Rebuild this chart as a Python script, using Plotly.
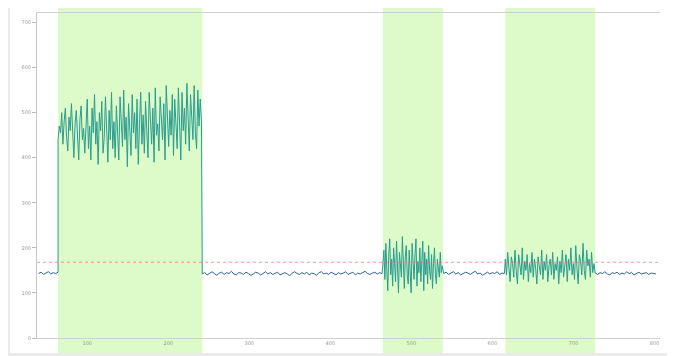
import numpy as np
import plotly.graph_objects as go

# ---- data ----
x_ticks = [100, 200, 300, 400, 500, 600, 700, 800]
x_tick_labels = ["100", "200", "300", "400", "500", "600", "700", "800"]
y_ticks = [0, 100, 200, 300, 400, 500, 600, 700]
y_tick_labels = ["0", "100", "200", "300", "400", "500", "600", "700"]

threshold = 168

# active (highlighted) intervals
spans = [(64, 242), (465, 539), (616, 727)]

base1_start, base1_step = 40, 3
base1 = [143, 146, 141, 144, 147, 142, 145, 143, 146]

act1_start, act1_step = 64, 1.5
act1 = [440, 470, 455, 500, 430, 480, 510, 445, 415, 490, 460, 520, 435, 400, 475, 505, 450, 395, 485, 515, 440, 465, 410, 495,
        530, 420, 470, 395, 510, 455, 540, 430, 480, 385, 500, 460, 525, 410, 445, 535, 470, 390, 505, 440, 545, 420, 480, 400,
        515, 450, 395, 535, 470, 425, 550, 440, 490, 380, 520, 465, 405, 540, 455, 500, 420, 530, 385, 475, 545, 430, 495, 410,
        525, 460, 400, 545, 480, 430, 510, 390, 555, 450, 475, 415, 535, 490, 440, 520, 395, 560, 470, 425, 505, 450, 540, 405,
        530, 465, 420, 555, 480, 395, 545, 460, 510, 430, 565, 475, 415, 540, 490, 440, 560, 455, 420, 550, 470, 530, 480]

base2_start, base2_step = 242, 3
base2 = [142, 145, 140, 144, 147, 143, 139, 144, 146, 141, 145, 143, 148, 142, 140, 145, 144, 141, 146, 143, 139, 142, 146, 144, 140, 143, 147, 142, 145, 141,
         144, 146, 140, 143, 145, 142, 138, 144, 147, 143, 141, 145, 142, 146, 140, 144, 143, 139, 145, 147, 142, 144, 141, 146, 143, 140, 145, 142, 144, 147,
         141, 143, 146, 140, 144, 142, 145, 148, 143, 141, 144, 146, 142, 145, 143]

act2_start, act2_step = 465, 1.2
act2 = [160, 195, 130, 210, 150, 105, 185, 220, 140, 175, 115, 200, 165, 125, 215, 145, 100, 190, 170, 135, 225, 155, 110, 180, 205, 140, 120, 195, 160, 100,
        210, 150, 130, 185, 220, 115, 170, 145, 200, 125, 160, 215, 105, 190, 140, 175, 120, 205, 150, 130, 185, 110, 165, 200, 140, 120, 175, 155, 135, 190,
        145, 160]

base3_start, base3_step = 540, 3
base3 = [143, 146, 141, 144, 147, 142, 145, 140, 143, 146, 144, 141, 145, 148, 142, 144, 139, 143, 146, 142, 145, 143, 147, 141, 144, 143]

act3_start, act3_step = 616, 1.5
act3 = [175, 140, 190, 155, 125, 180, 165, 135, 195, 150, 120, 185, 160, 140, 200, 130, 170, 150, 185, 125, 165, 145, 190, 135, 175, 155, 120, 180, 160, 140,
        195, 130, 170, 150, 185, 125, 160, 175, 140, 190, 130, 165, 150, 180, 120, 170, 145, 195, 135, 160, 185, 125, 175, 150, 200, 140, 165, 130, 205, 155,
        120, 185, 170, 140, 210, 150, 130, 195, 160, 175, 135, 190, 145, 165]

base4_start, base4_step = 727, 3
base4 = [144, 141, 145, 143, 147, 142, 140, 145, 143, 146, 141, 144, 142, 147, 143, 145, 140, 144, 146, 142, 143, 145, 141, 144, 143, 142]


def seg(start, step, vals):
    return list(start + step * np.arange(len(vals))), list(vals)


b = [seg(base1_start, base1_step, base1), seg(base2_start, base2_step, base2),
     seg(base3_start, base3_step, base3), seg(base4_start, base4_step, base4)]
a = [seg(act1_start, act1_step, act1), seg(act2_start, act2_step, act2),
     seg(act3_start, act3_step, act3)]

bx, by = [], []
for sx, sy in b:
    bx += sx + [None]
    by += sy + [None]

ax_, ay_ = [], []
for i, (sx, sy) in enumerate(a):
    px, py = b[i]
    nx, ny = b[i + 1]
    ax_ += [px[-1]] + sx + [nx[0], None]
    ay_ += [py[-1]] + sy + [ny[0], None]

fig = go.Figure()
fig.add_trace(go.Scatter(x=bx, y=by, mode="lines", line=dict(color="#2f5f9e", width=1),
                         hoverinfo="skip", showlegend=False))
fig.add_trace(go.Scatter(x=ax_, y=ay_, mode="lines", line=dict(color="#2a9d8f", width=1),
                         hoverinfo="skip", showlegend=False))

card_y0, card_y1 = -0.046, 1.016
shapes = [
    dict(type="rect", xref="paper", yref="paper", x0=-0.0433, x1=1.0112, y0=card_y0, y1=card_y1,
         fillcolor="white", line=dict(width=0), layer="below"),
]
for s0, s1 in spans:
    shapes.append(dict(type="rect", xref="x", yref="paper", x0=s0, x1=s1, y0=card_y0, y1=card_y1,
                       fillcolor="rgb(221,250,201)", line=dict(width=0), layer="below"))
shapes.append(dict(type="line", xref="paper", yref="y", x0=0, x1=1, y0=threshold, y1=threshold,
                   line=dict(color="rgba(240,110,110,0.7)", width=1, dash="dot"), layer="above"))
fig.update_layout(shapes=shapes)

fig.update_layout(
    width=675, height=356,
    margin=dict(l=29, r=23, t=5, b=26),
    paper_bgcolor="#ebebeb",
    plot_bgcolor="rgba(0,0,0,0)",
    font=dict(family="DejaVu Sans", size=5, color="#999999"),
    xaxis=dict(range=[38, 807], tickvals=x_ticks, ticktext=x_tick_labels,
               showgrid=False, zeroline=False, showline=True, mirror=True,
               linecolor="#d0d0d0", linewidth=1, ticks="", ticklen=0, automargin=False),
    yaxis=dict(range=[0, 721], tickvals=y_ticks, ticktext=y_tick_labels,
               showgrid=False, zeroline=False, showline=True, linecolor="#c8c8c8",
               linewidth=1, ticks="outside", ticklen=4, tickcolor="#bbbbbb", automargin=False),
)

fig.write_html("out.html")
